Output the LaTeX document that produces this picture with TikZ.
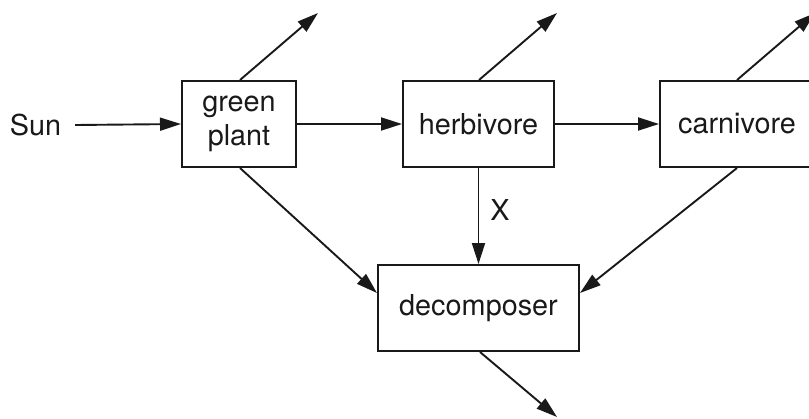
\documentclass[tikz,border=0pt]{standalone}
\usepackage{fontspec}
\setmainfont{TeX Gyre Heros}
\usetikzlibrary{arrows.meta}
\begin{document}
\begin{tikzpicture}[x=1pt,y=-1pt,
  box/.style={draw=black!90, line width=2pt, minimum height=86pt, inner sep=0pt,
    font=\fontsize{28.8}{34}\selectfont, align=center, text=black!90},
  flow/.style={line width=1.9pt, draw=black!90, -{Triangle[length=21pt,width=13pt]}},
  lbl/.style={font=\fontsize{28.8}{34}\selectfont, text=black!90, inner sep=0pt}]
\useasboundingbox (0,0) rectangle (809,418);
\node[box, minimum width=114pt] (green) at (239,124) {green\\plant};
\node[box, minimum width=151pt] (herb) at (478.5,124) {herbivore};
\node[box, minimum width=154pt] (carn) at (737,124) {carnivore};
\node[box, minimum width=201pt] (dec) at (478.5,308) {decomposer};
\node[lbl, outer sep=14pt] (sun) at (35.5,125) {Sun};
\coordinate (gup) at (318,13);
\coordinate (hup) at (557,13);
\coordinate (cup) at (815,13);
\coordinate (ddown) at (557,417);
\draw[flow] (sun.east) -- (green.west);
\draw[flow] (green.east) -- (herb.west);
\draw[flow] (herb.east) -- (carn.west);
\draw[flow] ([xshift=1pt]green.north) -- (gup);
\draw[flow] ([xshift=0.5pt]herb.north) -- (hup);
\draw[flow] (carn.north) -- (cup);
\draw[flow] ([xshift=1pt]green.south) -- ([yshift=15pt]dec.west);
\draw[flow] (carn.south) -- ([yshift=15pt]dec.east);
\draw[flow] (herb.south) -- node[lbl, pos=0.44, right=11pt] (x) {X} (dec.north);
\draw[flow] ([xshift=1.5pt]dec.south) -- (ddown);
\end{tikzpicture}
\end{document}
